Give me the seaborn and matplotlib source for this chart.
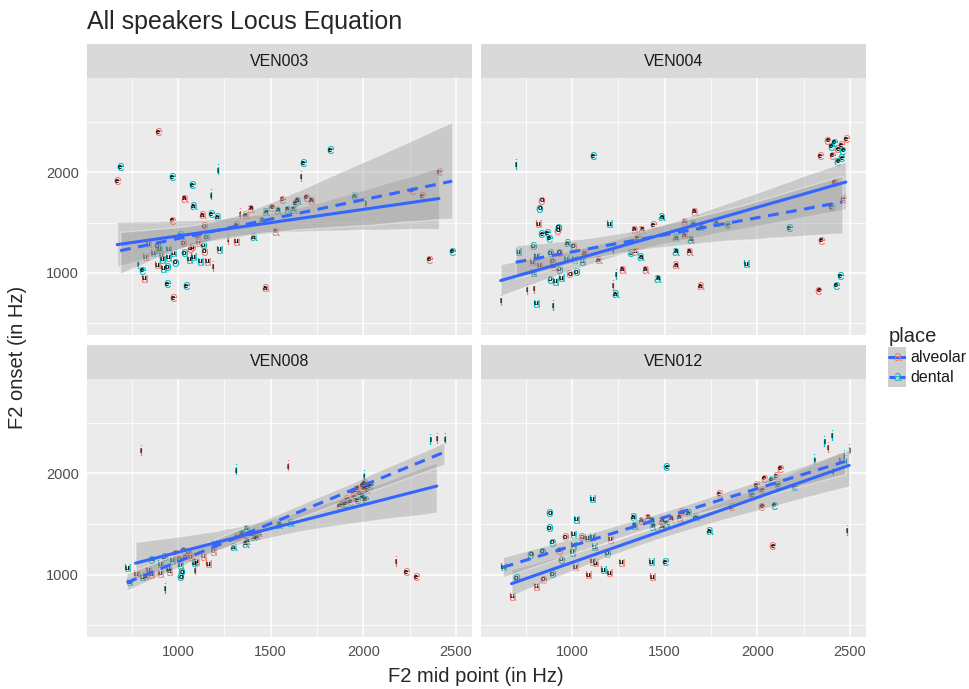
import numpy as np
import pandas as pd
import seaborn as sns
import matplotlib.pyplot as plt
from matplotlib.ticker import MultipleLocator

# F2 mid point / F2 onset values, per speaker and place
ven003_alv_mid = [892, 672, 1032, 1129, 968, 1140, 1335, 1362, 1392, 1505, 1524, 1313, 1103, 838, 1027, 1076, 1108,
                  822, 908, 887, 816, 1065, 1140, 1157, 1189, 1270, 1313, 1470, 973, 1664, 1562, 1632, 1691, 1718,
                  2264, 2318, 2409, 2355]
ven003_alv_on = [2396, 1911, 1733, 1574, 1515, 1465, 1574, 1574, 1634, 1644, 1406, 1475, 1366, 1287, 1297, 1257, 1297,
                 1158, 1178, 1079, 941, 1238, 1208, 1109, 1050, 1317, 1307, 851, 752, 1941, 1723, 1693, 1743, 1713,
                 1812, 1762, 2000, 1129]
ven003_alv_vow = "eeaaeoiaaeaeouoouuuuuooui" + "iuaeieeeaeeee"

ven003_den_mid = [688, 968, 1215, 1075, 1177, 1081, 1178, 1211, 1452, 1473, 1538, 1405, 1011, 1151, 887, 1135, 865,
                  897, 946, 973, 946, 914, 919, 941, 784, 806, 984, 1032, 1059, 1081, 1119, 1221, 941, 1043, 1821,
                  1675, 1643, 1589, 1621, 1950, 2010, 2480]
ven003_den_on = [2049, 1950, 2010, 1871, 1762, 1663, 1584, 1554, 1515, 1604, 1614, 1356, 1376, 1356, 1267, 1277, 1198,
                 1228, 1228, 1198, 1149, 1129, 1040, 1059, 1079, 1020, 1099, 1198, 1129, 1158, 1109, 1228, 891, 871,
                 2218, 2089, 1713, 1624, 1624, 1762, 1683, 1208]
ven003_den_vow = "eeieiaeaaaaaeooouuuuuuuoieoouuuueeeeaaaaie"

ven004_alv_mid = [836, 815, 923, 1005, 930, 782, 822, 894, 899, 988, 1140, 1066, 1336, 1376, 1437, 1353, 1340, 1272,
                  1393, 1218, 755, 795, 615, 1560, 2379, 2478, 2433, 2339, 2415, 2463, 2346, 2330, 1690, 1659, 1605,
                  1605, 1632, 2405, 2452]
ven004_alv_on = [1716, 1482, 1419, 1260, 1201, 1106, 1073, 1112, 1063, 990, 1126, 1195, 1426, 1426, 1475, 1343, 1211,
                 1030, 1030, 865, 822, 832, 716, 1079, 2310, 2323, 2225, 2158, 1894, 1730, 1317, 822, 871, 1607, 1508,
                 1376, 1211, 2160, 2265]
ven004_alv_vow = "ouooouuouoaaaaeeaaaiiiiaeeeeeeeeaaaaaee"

ven004_den_mid = [696, 1115, 826, 924, 836, 867, 876, 973, 791, 710, 881, 804, 969, 1011, 1052, 789, 930, 1023, 881,
                  908, 939, 1200, 1218, 1484, 1317, 1371, 1461, 1236, 1231, 804, 897, 1560, 1560, 2415, 2397, 2460,
                  2456, 2433, 2397, 2172, 1938, 2447, 2424, 1839, 1776, 1650, 1695, 1641]
ven004_den_on = [2062, 2158, 1637, 1449, 1386, 1393, 1340, 1294, 1267, 1205, 1195, 1162, 1136, 1129, 1112, 997, 1030,
                 1007, 931, 914, 948, 1485, 1221, 1551, 1195, 1155, 941, 974, 792, 693, 667, 1343, 1211, 2290, 2251,
                 2211, 2135, 2102, 1650, 1442, 1086, 970, 874, 1475, 1492, 1485, 1452, 1327]
ven004_den_vow = "ieooeeeaououuuuuooouuuiaeaaiauiaaeeeeeeeueeeaaaa"

ven008_alv_mid = [800, 1590, 2397, 2177, 2231, 2284, 771, 840, 984, 1029, 1056, 1065, 1097, 1092, 1137, 1160, 1187,
                  1313, 1371, 1434, 1871, 1947, 1956, 2001, 1885, 1910, 1930, 1975, 1990, 2020, 1340, 1395, 1420,
                  1005, 1040, 1995, 2012, 1968, 2030, 1940, 2005, 855, 905, 950, 820]
ven008_alv_on = [2211, 2062, 2333, 1116, 1023, 973, 1007, 1040, 1205, 1238, 1221, 1171, 1129, 1033, 1178, 1106, 1228,
                 1370, 1337, 1409, 1683, 1765, 1832, 1848, 1700, 1745, 1720, 1800, 1770, 1835, 1390, 1395, 1380,
                 1150, 1170, 1880, 1865, 1850, 1890, 1820, 1905, 1000, 1010, 1030, 985]
ven008_alv_vow = "iiiieeuuooouuiuuuaaaeeeeeeeeeeaaaooeeeeeeuuuu"

ven008_den_mid = [1313, 2004, 2361, 2438, 930, 723, 735, 804, 858, 924, 903, 948, 966, 1011, 1020, 1015, 1086, 1194,
                  1299, 1344, 1367, 1362, 1407, 1542, 1605, 1902, 1965, 1992, 2037, 2010]
ven008_den_on = [2023, 1963, 2320, 2327, 851, 1066, 924, 973, 1146, 1171, 1106, 1056, 1139, 1089, 1023, 973, 1112,
                 1304, 1271, 1403, 1452, 1304, 1370, 1495, 1508, 1700, 1733, 1782, 1871, 1740]
ven008_den_vow = "iiiiiuuuoouuuuoouuaaaaaaaeeeee"

ven012_alv_mid = [674, 804, 845, 930, 962, 1016, 1052, 1106, 1124, 1086, 1200, 1205, 1266, 1374, 1407, 1484, 1484,
                  1533, 1578, 1592, 1430, 1794, 1860, 1992, 2024, 2037, 2100, 2123, 2024, 2082, 2379, 2409, 2442,
                  2496, 2481]
ven012_alv_on = [785, 884, 950, 1238, 1370, 1073, 1370, 1129, 1112, 995, 1017, 1343, 1116, 1535, 1561, 1535, 1475,
                 1551, 1561, 1617, 973, 1792, 1667, 1881, 1832, 1947, 1970, 2046, 1673, 1280, 2244, 2013, 2122, 2218,
                 1426]
ven012_alv_vow = "uuooououuuuuuaaaaaaaueeeeeeeeeiiiii"

ven012_den_mid = [627, 699, 777, 840, 880, 876, 894, 942, 894, 1007, 1020, 1007, 1002, 1079, 1106, 1110, 1119, 1167,
                  1191, 1331, 1335, 1430, 1434, 1509, 1628, 1664, 1425, 1502, 1511, 1740, 1970, 2073, 2109, 2199,
                  2091, 2307, 2361, 2402, 2464, 2475]
ven012_den_on = [1073, 967, 1195, 1228, 1607, 1459, 1314, 1146, 1007, 1393, 1545, 1287, 1215, 1360, 1743, 1370, 1271,
                 1046, 1205, 1567, 1485, 1535, 1475, 1502, 1607, 1567, 1122, 1122, 2062, 1429, 1782, 1937, 1881, 1865,
                 1683, 2119, 2300, 2359, 2161, 2112]
ven012_den_vow = "uoooooooouuuuuuuuuoaaaaaaaueeaeeeeeiiiii"

speakers = ["VEN003", "VEN004", "VEN008", "VEN012"]
places = ["alveolar", "dental"]
place_colors = {"alveolar": "#F8766D", "dental": "#00BFC4"}
place_styles = {"alveolar": "-", "dental": (0, (3.5, 2.5))}

raw = {
    "VEN003": {"alveolar": (ven003_alv_mid, ven003_alv_on, ven003_alv_vow),
               "dental": (ven003_den_mid, ven003_den_on, ven003_den_vow)},
    "VEN004": {"alveolar": (ven004_alv_mid, ven004_alv_on, ven004_alv_vow),
               "dental": (ven004_den_mid, ven004_den_on, ven004_den_vow)},
    "VEN008": {"alveolar": (ven008_alv_mid, ven008_alv_on, ven008_alv_vow),
               "dental": (ven008_den_mid, ven008_den_on, ven008_den_vow)},
    "VEN012": {"alveolar": (ven012_alv_mid, ven012_alv_on, ven012_alv_vow),
               "dental": (ven012_den_mid, ven012_den_on, ven012_den_vow)},
}
rows = []
for spk in speakers:
    for pl in places:
        mid, on, vow = raw[spk][pl]
        for m, o, v in zip(mid, on, vow):
            rows.append({"speaker": spk, "place": pl, "mid": m, "onset": o, "vowel": v})
df = pd.DataFrame(rows)

sns.set_style("white")
plt.rcParams["font.family"] = ["Liberation Sans", "DejaVu Sans"]

W, H = 970, 689
fig = plt.figure(figsize=(W / 100, H / 100), dpi=100)


def rect(x0, y0, x1, y1):
    return [x0 / W, 1 - y1 / H, (x1 - x0) / W, (y1 - y0) / H]


cols_px = [(87, 472), (481, 866)]
rows_px = [((44, 78), (78, 335)), ((345, 379), (379, 637))]

for i, spk in enumerate(speakers):
    r, c = divmod(i, 2)
    x0, x1 = cols_px[c]
    (s0, s1), (p0, p1) = rows_px[r]

    sax = fig.add_axes(rect(x0, s0, x1, s1))
    sax.set_facecolor("#D9D9D9")
    sax.set_xticks([])
    sax.set_yticks([])
    for sp in sax.spines.values():
        sp.set_visible(False)
    sax.text(0.5, 0.5, spk, ha="center", va="center", fontsize=11.5, color="#1A1A1A", transform=sax.transAxes)

    ax = fig.add_axes(rect(x0, p0, x1, p1))
    ax.set_facecolor("#EBEBEB")
    sub = df[df.speaker == spk]

    for _, row in sub.iterrows():
        ax.text(row.mid, row.onset, row.vowel, color=place_colors[row.place], fontsize=10,
                ha="center", va="center", zorder=2)
        ax.text(row.mid, row.onset, row.vowel, color="black", fontsize=5.5, fontweight="bold",
                ha="center", va="center", zorder=2.1)

    for pl in places:
        d = sub[sub.place == pl]
        sns.regplot(data=d, x="mid", y="onset", ax=ax, scatter=False, ci=95, seed=0, truncate=True,
                    color="#999999", line_kws={"lw": 2.2, "ls": place_styles[pl], "zorder": 4})
        ax.lines[-1].set_color("#3366FF")
        ax.collections[-1].set_alpha(0.4)
        ax.collections[-1].set_zorder(3)

    ax.set_xlim(509, 2587)
    ax.set_ylim(386, 2931)
    ax.xaxis.set_major_locator(MultipleLocator(500))
    ax.xaxis.set_minor_locator(MultipleLocator(250))
    ax.yaxis.set_major_locator(MultipleLocator(1000))
    ax.yaxis.set_minor_locator(MultipleLocator(500))
    ax.grid(which="major", color="white", lw=1.1)
    ax.grid(which="minor", color="white", lw=0.55)
    ax.set_axisbelow(True)
    for sp in ax.spines.values():
        sp.set_visible(False)
    ax.set_xlabel("")
    ax.set_ylabel("")
    ax.tick_params(which="minor", length=0)
    ax.tick_params(which="major", length=3, width=0.8, color="#333333", labelcolor="#4D4D4D",
                   labelsize=10.5, pad=3)
    if r == 0:
        ax.tick_params(axis="x", which="major", length=0, labelbottom=False)
    if c == 1:
        ax.tick_params(axis="y", which="major", length=0, labelleft=False)

fig.text(87 / W, 1 - 22 / H, "All speakers Locus Equation", fontsize=18, ha="left", va="center")
fig.text(476 / W, 1 - 676 / H, "F2 mid point (in Hz)", fontsize=14.5, ha="center", va="center")
fig.text(18 / W, 1 - 357 / H, "F2 onset (in Hz)", fontsize=14.5, ha="center", va="center", rotation=90)

# legend
fig.text(889 / W, 1 - 336 / H, "place", fontsize=14.5, ha="left", va="center")
for k, pl in enumerate(places):
    y0 = 347 + 20 * k
    kax = fig.add_axes(rect(888, y0, 906, y0 + 20))
    kax.set_facecolor("#CFCFCF")
    kax.set_xlim(0, 1)
    kax.set_ylim(0, 1)
    kax.set_xticks([])
    kax.set_yticks([])
    for sp in kax.spines.values():
        sp.set_visible(False)
    kax.text(0.5, 0.5, "a", color=place_colors[pl], fontsize=10, ha="center", va="center")
    kax.plot([0.05, 0.95], [0.5, 0.5], color="#3366FF", lw=2.2, ls=place_styles[pl] if pl == "alveolar" else (0, (2, 1.2)))
    fig.text(910 / W, 1 - (y0 + 10) / H, pl, fontsize=11.5, ha="left", va="center", color="#1A1A1A")

fig.savefig("out.png", dpi=100)
